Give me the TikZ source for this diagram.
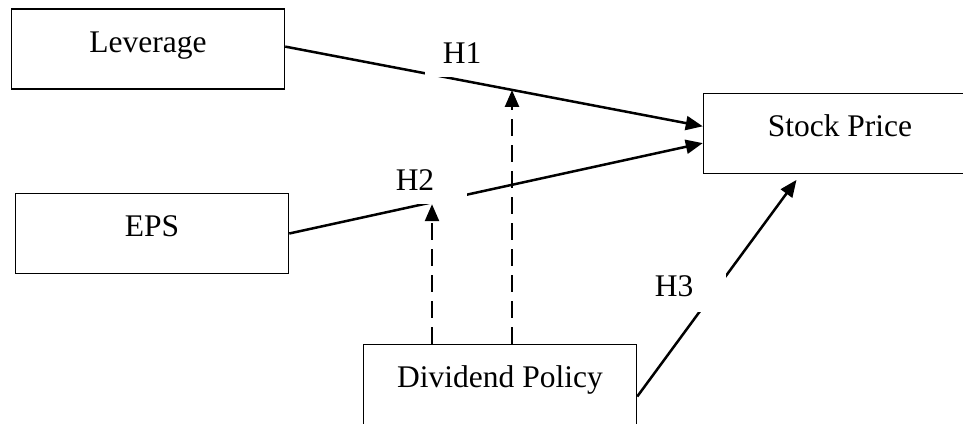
\documentclass[tikz,border=0pt]{standalone}
\usepackage{fontspec}
\setmainfont{Liberation Serif}
\usepackage{tikz}
\usetikzlibrary{shapes,arrows,arrows.meta,positioning}
\tikzstyle{Box} = [draw, rectangle, line width=1.5pt, minimum width=273pt, minimum height=80pt, text height=22pt, text depth=16pt, inner sep=0pt]
\tikzstyle{Label} = [rectangle, fill=white, minimum width=104pt, minimum height=48pt, inner sep=0pt]
\tikzstyle{Link} = [line width=2.5pt, -{Triangle[length=17pt,width=14pt]}]
\tikzstyle{Moderator} = [Link, dash pattern=on 17pt off 9pt]

\begin{document}
\begin{tikzpicture}[x=1pt, y=-1pt, font=\fontsize{31.5}{36}\selectfont]
    \useasboundingbox (0,0) rectangle (963,423);
    \node[Box]   (leverage) at (148,49)                           {Leverage};
    \node[Box]   (eps)      [below=103pt of leverage, xshift=4pt] {EPS};
    \node[Box]   (stock)    at (840,133.5)                        {Stock Price};
    \node[Box]   (dividend) at (500,384.5)                        {Dividend Policy};
    \draw[Link] (leverage.1) -- coordinate[pos=0.544] (h1mid) (stock.177);
    \draw[Link] (eps.east) to (stock.184);
    \draw[Link, shorten >=7pt] (dividend.-5) to (stock.226);
    \node[Label, minimum width=74pt]  (h1) at (462,53)  {H1};
    \node[Label]                      (h2) at (415,180) {H2};
    \node[Label, minimum height=52pt] (h3) at (674,286) {H3};
    \coordinate (m2) at ([xshift=-68pt]dividend.north);
    \coordinate (m1) at ([xshift=12pt]dividend.north);
    \draw[Moderator] (m2) to (m2 |- h2.south);
    \draw[Moderator] (m1) to (m1 |- h1mid);
\end{tikzpicture}
\end{document}
